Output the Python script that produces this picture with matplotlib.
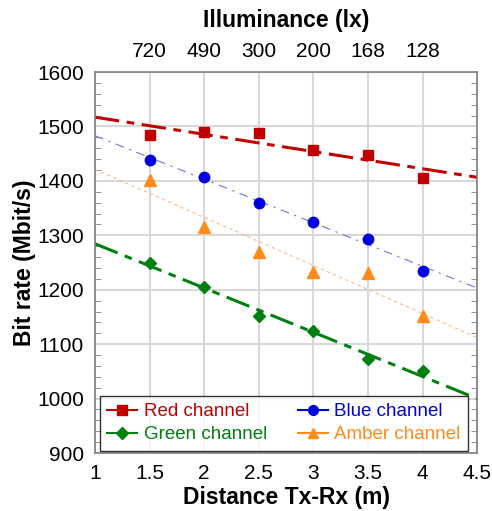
import numpy as np
import matplotlib.pyplot as plt
from matplotlib.ticker import MultipleLocator

plt.rcParams['font.family'] = ['Liberation Sans', 'DejaVu Sans']

# distances (m) and illuminance at each distance
distance = [1.5, 2.0, 2.5, 3.0, 3.5, 4.0]
lux_labels = ["720", "490", "300", "200", "168", "128"]

red = [1484, 1490, 1488, 1456, 1448, 1405]
blue = [1438, 1408, 1360, 1325, 1293, 1234]
amber = [1401, 1316, 1270, 1232, 1230, 1151]
green = [1250, 1205, 1151, 1124, 1073, 1050]

fig = plt.figure(figsize=(4.92, 5.11), dpi=100)
ax = fig.add_axes([0.193, 0.1135, 0.777, 0.7455])

xfit = np.array([1.0, 4.5])

# name, values, colour, marker, size, fit linestyle, fit width, fit colour
series = [
    ("Red channel", red, "#C00000", "s", 7, (0, (8, 2.5, 2.5, 2.5)), 2.2, "#C00000"),
    ("Green channel", green, "#00800F", "D", 6.5, (0, (8, 2.5, 2.5, 2.5)), 2.2, "#00800F"),
    ("Blue channel", blue, "#0000DD", "o", 7.5, (0, (8, 5, 2, 5)), 0.8, "#7070F0"),
    ("Amber channel", amber, "#FF8C1A", "^", 8, (0, (3, 3)), 0.8, "#FFB880"),
]

handles = []
for name, vals, col, mk, ms, ls, lw, lcol in series:
    p = np.polyfit(distance, vals, 1)
    ax.plot(xfit, np.polyval(p, xfit), color=lcol, linestyle=ls, linewidth=lw, zorder=2)
    ax.plot(distance, vals, linestyle="none", marker=mk, markersize=ms,
            color=col, zorder=3)
    h, = ax.plot([], [], color=col, marker=mk, markersize=ms - 0.5, linewidth=1.5,
                 label=name)
    handles.append(h)

ax.set_xlim(1, 4.5)
ax.set_ylim(900, 1600)
ax.yaxis.set_major_locator(MultipleLocator(100))
ax.yaxis.set_minor_locator(MultipleLocator(20))
ax.set_xticks([1, 1.5, 2, 2.5, 3, 3.5, 4, 4.5])
ax.set_xticklabels(["1", "1.5", "2", "2.5", "3", "3.5", "4", "4.5"])
ax.grid(True, which="major", color="#D8D8D8", linewidth=1.5)
ax.set_axisbelow(True)
ax.tick_params(axis="both", which="major", labelsize=15, direction="in",
               length=0, pad=8)
ax.tick_params(axis="y", which="minor", direction="in", length=4,
               color="#808080", left=True, right=True)
for s in ax.spines.values():
    s.set_color("#808080")
    s.set_linewidth(1.2)

ax.set_xlabel("Distance Tx-Rx (m)", fontsize=16.5, fontweight="bold", labelpad=2)
ax.set_ylabel("Bit rate (Mbit/s)", fontsize=16.5, fontweight="bold", labelpad=0.5)

top = ax.twiny()
top.set_xlim(ax.get_xlim())
top.set_xticks(distance)
top.set_xticklabels(lux_labels)
top.tick_params(axis="x", labelsize=15, length=0, pad=8)
top.set_xlabel("Illuminance (lx)", fontsize=16.5, fontweight="bold", labelpad=11)
for s in top.spines.values():
    s.set_visible(False)

leg = ax.legend(handles=handles, ncol=2, loc="lower left",
                bbox_to_anchor=(0.013, 0.006, 0.963, 0.14), mode="expand",
                borderaxespad=0, fontsize=13.5, frameon=True, fancybox=False,
                edgecolor="black", handlelength=1.6, handletextpad=0.35,
                borderpad=0.4, labelspacing=0.3, columnspacing=1.0)
leg.get_frame().set_linewidth(1.0)
for txt, s in zip(leg.get_texts(), series):
    txt.set_color(s[2])

fig.savefig("out.png", dpi=100)
